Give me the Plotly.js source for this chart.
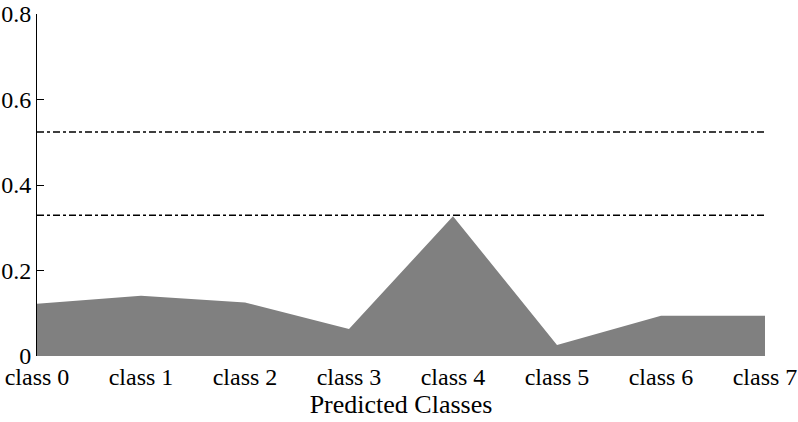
<!DOCTYPE html>
<html>
<head>
<meta charset="utf-8">
<script src="https://cdn.plot.ly/plotly-3.0.1.min.js"></script>
<style>
  html, body { margin: 0; padding: 0; background: #fff; }
  #chart { width: 798px; height: 422px; }
</style>
</head>
<body>
<div id="chart"></div>
<script>
// ── data ─────────────────────────────────────────────
const classes   = ['class 0', 'class 1', 'class 2', 'class 3', 'class 4', 'class 5', 'class 6', 'class 7'];
const scores    = [0.122, 0.141, 0.125, 0.063, 0.327, 0.026, 0.094, 0.094];
const refLines  = [0.524, 0.329];
const yTicks    = [0, 0.2, 0.4, 0.6, 0.8];
const yTickText = ['0', '0.2', '0.4', '0.6', '0.8'];

const FONT = 'Liberation Serif, Times New Roman, serif';
const xIdx = classes.map((_, i) => i);

const traces = [
  {
    x: xIdx, y: scores,
    type: 'scatter', mode: 'lines',
    fill: 'tozeroy', fillcolor: '#808080',
    line: { color: '#808080', width: 0 },
    hoverinfo: 'skip',
  },
  ...refLines.map(v => ({
    x: [xIdx[0], xIdx[xIdx.length - 1]], y: [v, v],
    type: 'scatter', mode: 'lines',
    line: { color: '#000', width: 1.5, dash: '7px,3px,3px,3px' },
    hoverinfo: 'skip',
  })),
];

const layout = {
  width: 798, height: 422,
  paper_bgcolor: '#fff', plot_bgcolor: '#fff',
  showlegend: false,
  font: { family: FONT, color: '#000', size: 24 },
  margin: { t: 14, b: 66, l: 37, r: 33 },
  xaxis: {
    range: [0, 7],
    tickvals: xIdx, ticktext: classes,
    showgrid: false, zeroline: false, showline: false,
    ticks: '', ticklen: 0,
    ticklabelstandoff: 4,
    tickfont: { family: FONT, size: 24, color: '#000' },
    title: { text: 'Predicted Classes', font: { family: FONT, size: 26, color: '#000' }, standoff: 0 },
  },
  yaxis: {
    range: [0, 0.8],
    tickvals: yTicks, ticktext: yTickText,
    showgrid: false, zeroline: false,
    showline: true, linecolor: '#000', linewidth: 1,
    ticks: 'inside', ticklen: 7, tickwidth: 1, tickcolor: '#000',
    tickfont: { family: FONT, size: 24, color: '#000' },
  },
};

Plotly.newPlot('chart', traces, layout, { displayModeBar: false, staticPlot: true });
</script>
</body>
</html>
